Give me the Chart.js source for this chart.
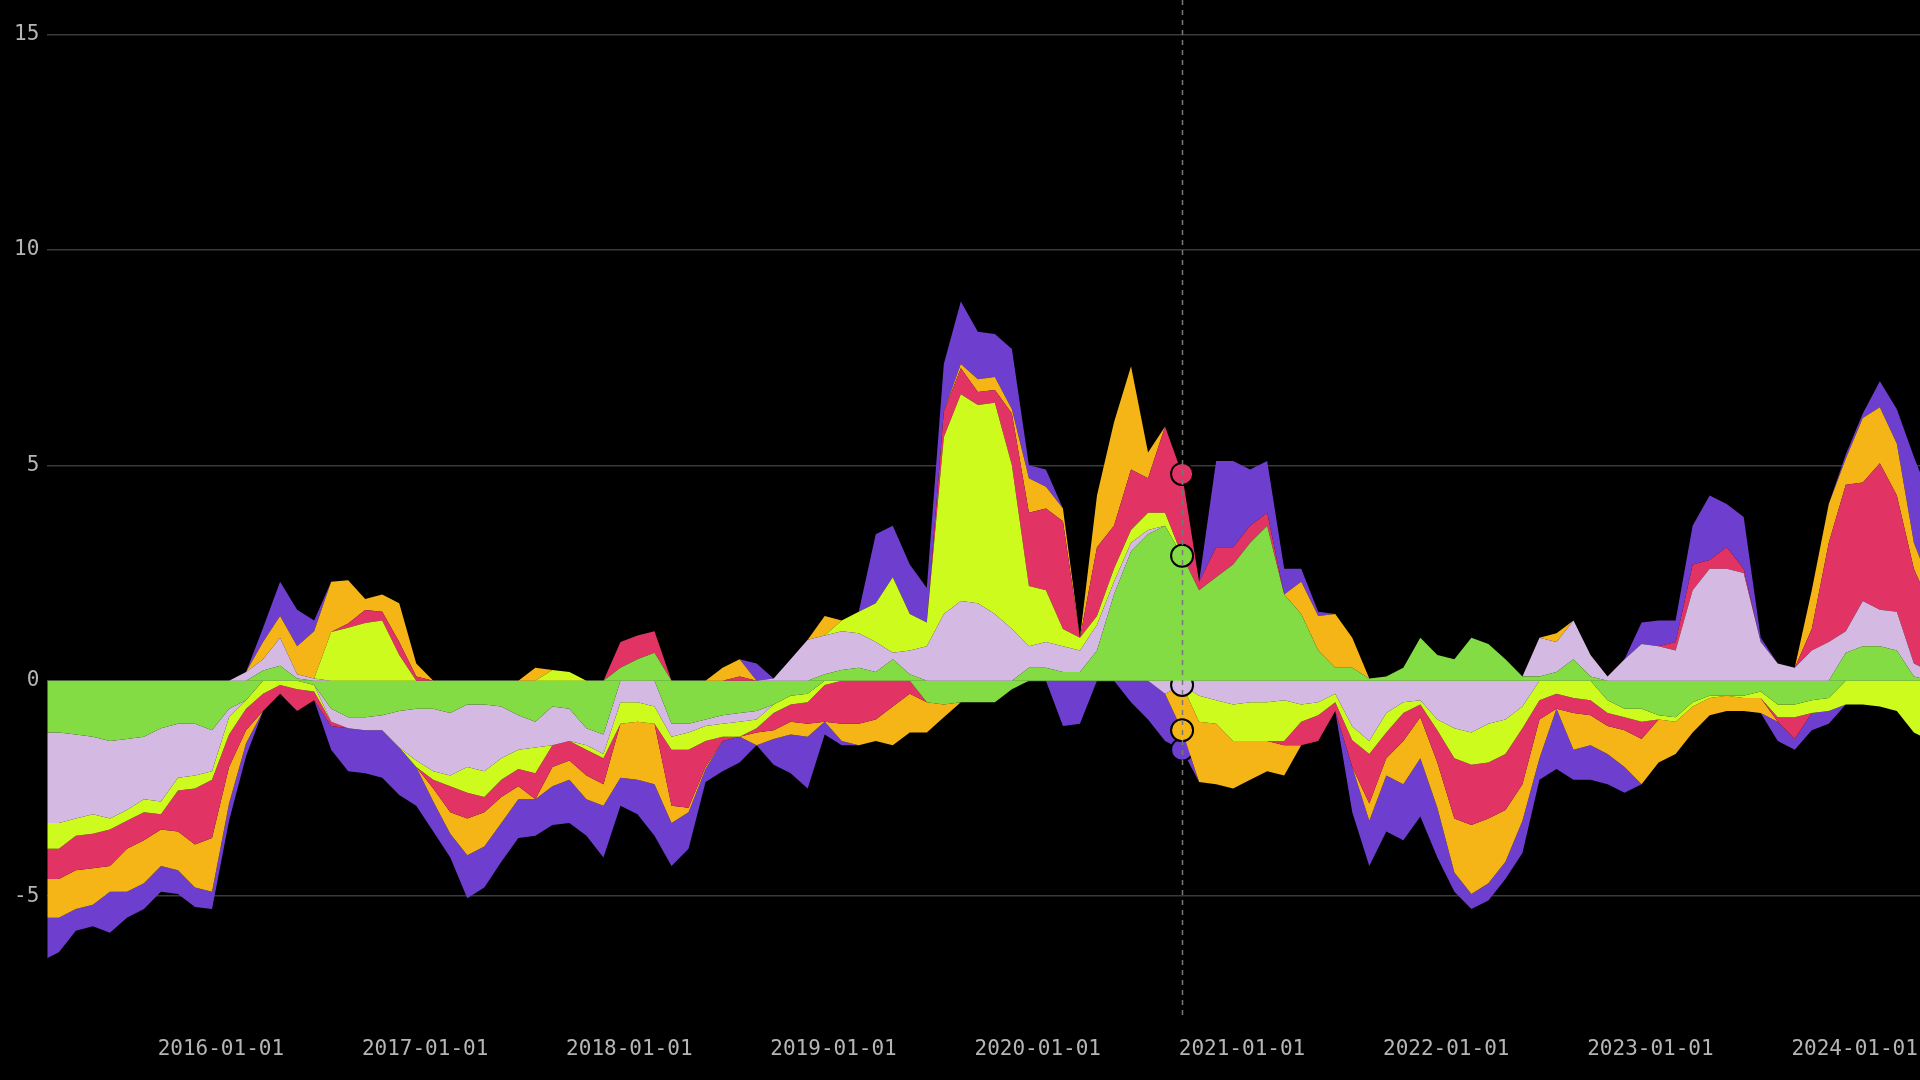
<!DOCTYPE html>
<html><head><meta charset="utf-8">
<script src="https://cdn.jsdelivr.net/npm/chart.js@4"></script>
<style>html,body{margin:0;padding:0;background:#000;}canvas{display:block;}</style>
</head><body>
<canvas id="c" width="1920" height="1080"></canvas>
<script>
const months = [];
for (let y = 2015; y <= 2024; y++) for (let m = 1; m <= 12; m++) {
  if ((y === 2015 && m < 2) || (y === 2024 && m > 5)) continue;
  months.push(y + '-' + String(m).padStart(2, '0'));
}
const seriesNames = ['Green', 'Lavender', 'Lime', 'Red', 'Orange', 'Purple'];
const green = [-1.2,-1.2,-1.25,-1.3,-1.4,-1.35,-1.3,-1.1,-1.0,-1.0,-1.15,
 -0.65,-0.45,0.24,0.35,0.05,-0.1,-0.65,-0.85,-0.85,-0.8,-0.7,-0.65,
 -0.65,-0.75,-0.55,-0.55,-0.6,-0.8,-0.95,-0.6,-0.65,-1.1,-1.25,0.3,
 0.5,0.65,-1.0,-1.0,-0.9,-0.8,-0.75,-0.7,-0.55,-0.35,-0.3,0.15,
 0.25,0.3,0.2,0.5,0.15,-0.5,-0.55,-0.5,-0.5,-0.5,-0.2,0.3,
 0.3,0.2,0.2,0.7,2.0,3.0,3.4,3.6,2.9,2.1,2.4,2.7,
 3.2,3.6,2.0,1.55,0.7,0.3,0.3,0.05,0.1,0.3,1.0,0.6,
 0.5,1.0,0.85,0.5,0.1,0.1,0.2,0.5,0.1,-0.45,-0.65,-0.65,
 -0.8,-0.85,-0.5,-0.35,-0.35,-0.35,-0.25,-0.55,-0.55,-0.45,-0.4,0.65,
 0.8,0.8,0.7,0.1,0];
const lavender = [-2.1,-2.1,-1.95,-1.8,-1.8,-1.65,-1.45,-1.7,-1.25,-1.2,-0.95,
 -0.2,0.2,0.26,0.65,0.1,0.05,-0.3,-0.25,-0.3,-0.35,-0.85,-1.2,
 -1.45,-1.45,-1.45,-1.55,-1.2,-0.8,-0.6,-0.9,-0.75,-0.4,-0.45,-0.5,
 -0.5,-0.6,-0.3,-0.2,-0.15,-0.2,-0.2,-0.2,0.05,0.5,0.95,0.9,
 0.9,0.8,0.7,0.15,0.55,0.8,1.55,1.85,1.8,1.55,1.2,0.5,
 0.6,0.6,0.5,0.6,0.3,0.2,0.1,-0.3,-0.1,-0.35,-0.45,-0.55,
 -0.5,-0.5,-0.45,-0.55,-0.5,-0.3,-1.06,-1.4,-0.75,-0.5,-0.45,-0.9,
 -1.1,-1.2,-1.0,-0.9,-0.6,0.9,0.7,0.9,0.5,0.1,0.5,0.85,
 0.8,0.7,2.1,2.6,2.6,2.5,0.9,0.4,0.3,0.7,0.9,0.5,
 1.05,0.85,0.9,0.3,0.2];
const lime = [-0.6,-0.6,-0.4,-0.45,-0.25,-0.25,-0.3,-0.3,-0.3,-0.3,-0.2,
 -0.4,-0.2,-0.3,-0.1,-0.2,-0.15,1.13,1.23,1.34,1.4,0.6,-0.15,
 -0.2,-0.25,-0.6,-0.6,-0.5,-0.45,-0.6,0.25,0.2,-0.1,-0.1,-0.5,
 -0.45,-0.4,-0.3,-0.4,-0.35,-0.3,-0.35,-0.2,-0.2,-0.2,-0.2,-0.1,
 0.25,0.5,0.9,1.75,0.85,0.55,4.1,4.8,4.6,4.9,3.8,1.4,
 1.2,0.4,0.3,0.2,0.3,0.3,0.4,0.3,0,-0.6,-0.55,-0.85,
 -0.9,-0.9,-0.95,-0.4,-0.3,-0.2,-0.32,-0.3,-0.45,-0.25,-0.1,-0.25,
 -0.7,-0.75,-0.9,-0.8,-0.5,-0.45,-0.3,-0.4,-0.45,-0.3,-0.2,-0.3,
 -0.1,-0.1,-0.1,-0.05,0,-0.05,-0.15,-0.3,-0.3,-0.3,-0.3,-0.55,
 -0.55,-0.6,-0.7,-1.2,-1.4];
const red = [-0.7,-0.7,-0.8,-0.8,-0.85,-0.65,-0.65,-0.35,-0.95,-1.3,-1.35,
 -0.75,-0.5,-0.4,-0.2,-0.5,-0.2,-0.1,0.1,0.3,0.2,0.3,0.1,
 -0.2,-0.6,-0.6,-0.35,-0.4,-0.4,-0.6,-0.5,-0.45,-0.6,-0.6,0.6,
 0.55,0.5,-1.3,-1.35,-0.6,-0.1,0.1,-0.1,-0.4,-0.4,-0.5,-0.85,
 -1.0,-1.0,-0.9,-0.6,-0.3,0,0.6,0.6,0.3,0.3,1.2,1.7,
 1.9,2.5,0,1.6,1.0,1.4,0.8,2.0,1.9,0.2,0.7,0.4,
 0.4,0.3,-0.1,-0.55,-0.6,-0.2,-0.62,-1.15,-0.6,-0.65,-0.3,-0.75,
 -1.4,-1.4,-1.3,-1.3,-1.3,-0.45,-0.35,-0.35,-0.35,-0.3,-0.3,-0.4,
 0,0.2,0.6,0.2,0.5,0.1,0,-0.1,-0.5,0.5,2.3,3.4,
 2.75,3.4,2.7,2.2,1.5];
const orange = [-0.9,-0.9,-0.9,-0.85,-0.6,-1.0,-1.0,-0.85,-0.9,-1.0,-1.25,
 -0.85,-0.3,0.4,0.5,0.65,1.1,1.17,1.0,0.26,0.4,0.9,0.3,
 -0.3,-0.5,-0.85,-0.8,-0.6,-0.3,0.3,-0.45,-0.45,-0.55,-0.5,-1.25,
 -1.35,-1.4,-0.4,-0.1,-0.05,0.3,0.4,-0.3,-0.2,-0.3,-0.3,0.45,
 -0.4,-0.5,-0.5,-0.9,-0.9,-0.7,-0.3,0.1,0.3,0.3,0.1,0.8,
 0.5,0.3,0,1.2,2.4,2.4,0.6,0,-1.05,-1.4,-1.4,-1.1,
 -0.9,-0.7,-0.7,0.75,0.8,1.25,0.7,-0.4,-0.4,-1.0,-0.95,-1.05,
 -1.25,-1.6,-1.5,-1.2,-0.85,-0.9,0.2,-0.85,-0.7,-0.65,-0.85,-1.05,
 -1.0,-0.75,-0.6,-0.4,-0.35,-0.3,-0.35,0,0,0.9,0.9,0.6,
 1.5,1.3,1.2,0.6,0.5];
const purple = [-1.0,-0.8,-0.5,-0.5,-0.95,-0.6,-0.6,-0.6,-0.55,-0.45,-0.4,
 -0.4,-0.3,0.33,0.8,0.85,0.25,-0.55,-1.0,-1.0,-1.1,-1.1,-0.9,
 -0.7,-0.55,-1.0,-0.95,-0.9,-0.9,-0.85,-0.9,-1.0,-0.85,-1.2,-0.65,
 -0.8,-1.2,-1.0,-0.85,-0.3,-0.7,-0.6,0.4,-0.6,-0.9,-1.2,-0.3,
 -0.1,0,1.6,1.2,1.15,0.8,1.1,1.45,1.1,1.0,1.4,0.3,
 0.4,-1.05,-1.0,0,0,-0.5,-0.9,-1.1,-0.45,0,2.0,2.0,
 1.3,1.2,0.6,0.3,0.1,0,-1.05,-1.05,-1.3,-1.3,-1.35,-1.15,
 -0.45,-0.35,-0.4,-0.4,-0.75,-0.5,-1.4,-0.7,-0.8,-0.7,-0.6,0.5,
 0.6,0.5,0.9,1.5,1.0,1.2,0.1,-0.45,-0.25,-0.4,-0.3,0.1,
 0.1,0.6,0.8,2.0,2.0];
const yTicks = [-5, 0, 5, 10, 15];
const xTickYears = [2016, 2017, 2018, 2019, 2020, 2021, 2022, 2023, 2024];
const highlightMonth = '2020-09';

const colors = ['#84dc45', '#d4b9e2', '#cdfb1e', '#e13465', '#f6b517', '#6e3fce'];
const allSeries = [green, lavender, lime, red, orange, purple];
const xs = months.map(s => { const [y, m] = s.split('-').map(Number); return y + (m - 1) / 12 + 0.04; });
const hi = months.indexOf(highlightMonth);

const datasets = [];
['p', 'n'].forEach(sign => {
  allSeries.forEach((arr, si) => {
    datasets.push({
      label: seriesNames[si] + (sign === 'p' ? ' +' : ' -'),
      stack: sign,
      data: arr.map((v, i) => ({ x: xs[i], y: sign === 'p' ? Math.max(v, 0) : Math.min(v, 0) })),
      backgroundColor: colors[si],
      borderWidth: 0,
      borderColor: colors[si],
      fill: si === 0 ? 'origin' : '-1',
      tension: 0,
      pointRadius: c => (c.dataIndex === hi && c.raw && c.raw.y !== 0) ? 11 : 0,
      pointBackgroundColor: colors[si],
      pointBorderColor: '#000',
      pointBorderWidth: 2,
    });
  });
});

const crosshair = {
  id: 'crosshair',
  afterDatasetsDraw(chart) {
    const { ctx, chartArea, scales } = chart;
    const x = Math.round(scales.x.getPixelForValue(xs[hi])) + 0.5;
    ctx.save();
    ctx.strokeStyle = '#777';
    ctx.lineWidth = 1.5;
    ctx.setLineDash([5, 5]);
    ctx.beginPath();
    ctx.moveTo(x, chartArea.top);
    ctx.lineTo(x, chartArea.bottom);
    ctx.stroke();
    ctx.restore();
  }
};
const bg = {
  id: 'bg',
  beforeDraw(chart) { const c = chart.ctx; c.save(); c.fillStyle = '#000'; c.fillRect(0, 0, chart.width, chart.height); c.restore(); }
};

new Chart(document.getElementById('c'), {
  type: 'line',
  data: { datasets },
  plugins: [bg, crosshair],
  options: {
    responsive: false,
    animation: false,
    devicePixelRatio: 1,
    layout: { padding: { left: 6, right: 0, top: 0, bottom: 6 } },
    plugins: { legend: { display: false }, tooltip: { enabled: false } },
    elements: { point: { hoverRadius: 0 } },
    scales: {
      x: {
        type: 'linear', min: 2015.15, max: 2024.32,
        grid: { display: false }, border: { display: false },
        afterBuildTicks: s => { s.ticks = xTickYears.map(v => ({ value: v })); },
        afterFit: s => { s.paddingLeft = 0; s.paddingRight = 0; },
        ticks: { color: '#b5b5b5', font: { family: 'DejaVu Sans Mono', size: 21 }, padding: 12, maxRotation: 0,
          callback: v => v + '-01-01' }
      },
      y: {
        stacked: true, min: -7.8, max: 15.8,
        grid: { color: '#3a3a3a', lineWidth: 1.5, drawTicks: false }, border: { display: false },
        afterBuildTicks: s => { s.ticks = yTicks.map(v => ({ value: v })); },
        afterFit: s => { s.paddingTop = 0; s.paddingBottom = 0; },
        ticks: { color: '#b5b5b5', font: { family: 'DejaVu Sans Mono', size: 21 }, padding: 8 }
      }
    }
  }
});
</script>
</body></html>
